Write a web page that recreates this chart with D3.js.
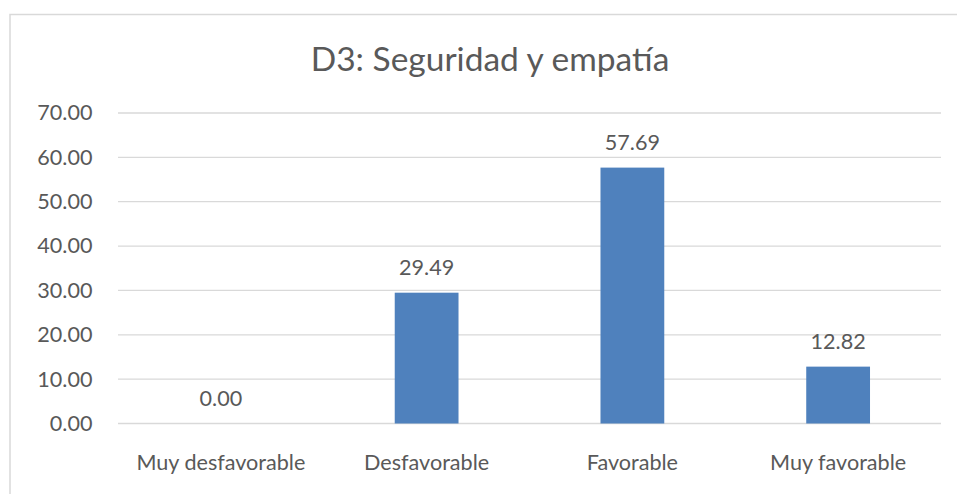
<!DOCTYPE html>
<html>
<head>
<meta charset="utf-8">
<script src="https://cdn.jsdelivr.net/npm/d3@7"></script>
<style>
  html, body { margin: 0; padding: 0; background: #fff; }
  svg { display: block; font-family: Lato, "Open Sans", sans-serif; }
</style>
</head>
<body>
<svg id="chart" width="957" height="494"></svg>
<script>
// Survey dimension D3 results (percent)
const categories = ["Muy desfavorable", "Desfavorable", "Favorable", "Muy favorable"];
const values = [0.00, 29.49, 57.69, 12.82];
const yTicks = [0, 10, 20, 30, 40, 50, 60, 70];
const title = "D3: Seguridad y empatía";

const svg = d3.select("#chart");
const W = 957, H = 494;
const plot = { left: 118, right: 941, top: 113, bottom: 423.5 };
const textColor = "#595959";
const gridColor = "#d9d9d9";
const labelSize = 21.6;
const fontFamily = "Lato, 'Open Sans', sans-serif";

// Outer chart frame
svg.append("rect")
  .attr("x", 10).attr("y", 14.5)
  .attr("width", W + 10).attr("height", H)
  .attr("fill", "#fff").attr("stroke", gridColor).attr("stroke-width", 1.5);

svg.append("text")
  .attr("x", 490).attr("y", 70.5)
  .attr("text-anchor", "middle")
  .attr("fill", textColor)
  .attr("font-size", 33.5)
  .text(title);

const x = d3.scaleBand().domain(categories)
  .range([plot.left, plot.right]).paddingInner(0.69).paddingOuter(0.345);
const y = d3.scaleLinear().domain([0, 70]).range([plot.bottom, plot.top]);

// Horizontal gridlines
svg.append("g").selectAll("line").data(yTicks).join("line")
  .attr("x1", plot.left).attr("x2", plot.right)
  .attr("y1", d => y(d)).attr("y2", d => y(d))
  .attr("stroke", gridColor).attr("stroke-width", 1.3);

// Y axis labels
const yAxis = d3.axisLeft(y).tickValues(yTicks).tickFormat(d3.format(".2f")).tickSize(0).tickPadding(0);
const gy = svg.append("g").attr("transform", `translate(${plot.left - 25.5},0)`).call(yAxis);
gy.select(".domain").remove();
gy.selectAll("text").attr("fill", textColor).attr("font-size", labelSize)
  .attr("font-family", fontFamily);

// Bars
svg.append("g").selectAll("rect").data(values).join("rect")
  .attr("x", (d, i) => x(categories[i]))
  .attr("width", x.bandwidth())
  .attr("y", d => y(d))
  .attr("height", d => y(0) - y(d))
  .attr("fill", "#4f81bd");

// Value labels
svg.append("g").selectAll("text").data(values).join("text")
  .attr("x", (d, i) => x(categories[i]) + x.bandwidth() / 2)
  .attr("y", d => y(d) - 18)
  .attr("text-anchor", "middle")
  .attr("fill", textColor)
  .attr("font-size", labelSize)
  .text(d => d3.format(".2f")(d));

// Category labels
const xAxis = d3.axisBottom(x).tickSize(0).tickPadding(0);
const gx = svg.append("g").attr("transform", `translate(0,${plot.bottom})`).call(xAxis);
gx.select(".domain").remove();
gx.selectAll("text").attr("fill", textColor).attr("font-size", labelSize)
  .attr("font-family", fontFamily).attr("dy", null).attr("y", 46.5);
</script>
</body>
</html>
